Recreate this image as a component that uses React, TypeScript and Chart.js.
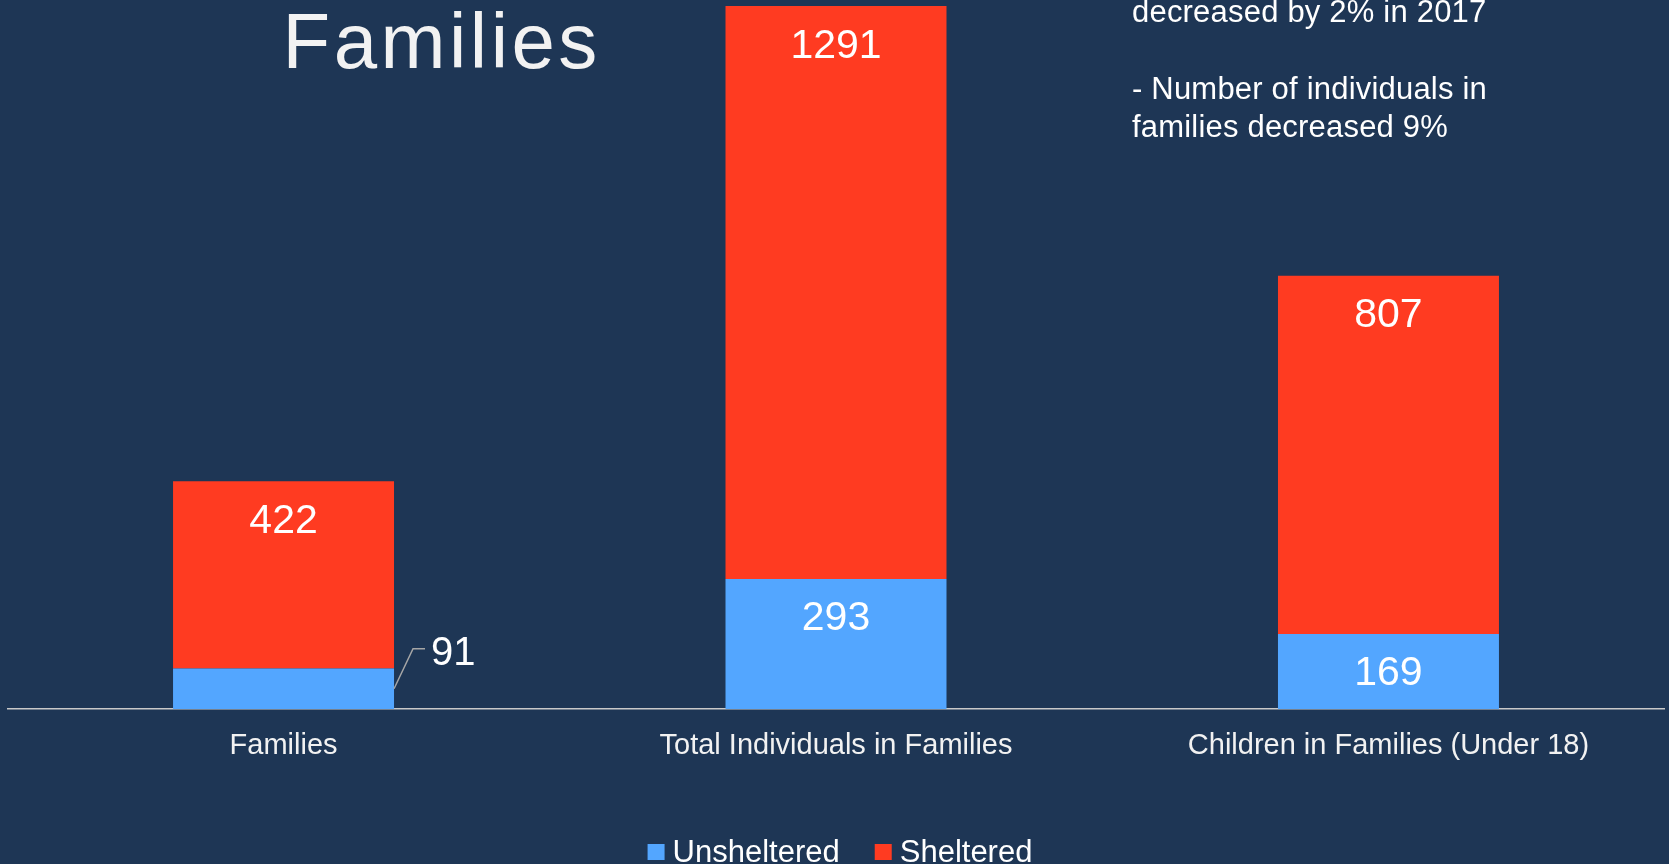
import React, { useEffect, useRef } from 'react';
import { Chart, registerables } from 'chart.js';

Chart.register(...registerables);

const categories = ['Families', 'Total Individuals in Families', 'Children in Families (Under 18)'];
const unsheltered = [91, 293, 169];
const sheltered = [422, 1291, 807];
const seriesNames = ['Unsheltered', 'Sheltered'];
const titleText = 'Families';
const noteLines = ['decreased by 2% in 2017', '', '- Number of individuals in', 'families decreased 9%'];

const BG = '#1E3655';
const RED = '#FF3B21';
const BLUE = '#53A6FF';
const FONT = '"Liberation Sans", Arial, sans-serif';

const yMax = Math.max(...unsheltered.map((v, i) => v + sheltered[i]));

const decorPlugin = {
  id: 'decor',
  beforeDraw(chart: any) {
    const ctx = chart.ctx;
    ctx.save();
    ctx.fillStyle = BG;
    ctx.fillRect(0, 0, chart.width, chart.height);
    ctx.restore();
  },
  afterDatasetsDraw(chart: any) {
    const ctx = chart.ctx;
    ctx.save();
    chart.data.datasets.forEach((ds: any, di: number) => {
      const meta = chart.getDatasetMeta(di);
      meta.data.forEach((el: any, i: number) => {
        const v = ds.data[i];
        const top = Math.min(el.y, el.base);
        const base = Math.max(el.y, el.base);
        const h = base - top;
        ctx.fillStyle = '#FFFFFF';
        ctx.textBaseline = 'alphabetic';
        if (h > 60) {
          ctx.font = `41px ${FONT}`;
          ctx.textAlign = 'center';
          ctx.fillText(String(v), el.x, top + 51.5);
        } else {
          const right = el.x + el.width / 2;
          const mid = (top + base) / 2;
          ctx.strokeStyle = '#A6A6A6';
          ctx.lineWidth = 1.5;
          ctx.beginPath();
          ctx.moveTo(right, mid);
          ctx.lineTo(right + 19, mid - 40);
          ctx.lineTo(right + 31, mid - 40);
          ctx.stroke();
          ctx.font = `40px ${FONT}`;
          ctx.textAlign = 'left';
          ctx.fillText(String(v), right + 37, mid - 24.2);
        }
      });
    });
    ctx.restore();
  },
  afterDraw(chart: any) {
    const ctx = chart.ctx;
    ctx.save();
    // title
    ctx.fillStyle = '#F2F2F2';
    ctx.font = `78px ${FONT}`;
    ctx.textAlign = 'left';
    ctx.textBaseline = 'alphabetic';
    (ctx as any).letterSpacing = '3.5px';
    ctx.fillText(titleText, 282.5, 67.7);
    // notes
    ctx.fillStyle = '#FFFFFF';
    ctx.font = `31px ${FONT}`;
    (ctx as any).letterSpacing = '0.2px';
    noteLines.forEach((line, i) => {
      if (line) ctx.fillText(line, 1132, 21.5 + i * 38.5);
    });
    // legend
    (ctx as any).letterSpacing = '0px';
    ctx.font = `31px ${FONT}`;
    const boxW = 17;
    const boxH = 16;
    const gapBox = 8;
    const gapItem = 35;
    const widths = chart.data.datasets.map((ds: any) => ctx.measureText(ds.label).width);
    let total = 0;
    widths.forEach((w: number, i: number) => {
      total += boxW + gapBox + w + (i < widths.length - 1 ? gapItem : 0);
    });
    const ca = chart.chartArea;
    let x = (ca.left + ca.right) / 2 + 4 - total / 2;
    chart.data.datasets.forEach((ds: any, i: number) => {
      ctx.fillStyle = ds.backgroundColor;
      ctx.fillRect(x, 844, boxW, boxH);
      x += boxW + gapBox;
      ctx.fillStyle = '#FFFFFF';
      ctx.fillText(ds.label, x, 862);
      x += widths[i] + gapItem;
    });
    ctx.restore();
  },
};

export default function App() {
  const ref = useRef<HTMLCanvasElement>(null);
  useEffect(() => {
    document.body.style.margin = '0';
    document.body.style.background = BG;
    const chart = new Chart(ref.current as HTMLCanvasElement, {
      type: 'bar',
      data: {
        labels: categories,
        datasets: [
          {
            label: seriesNames[0],
            data: unsheltered,
            backgroundColor: BLUE,
            borderWidth: 0,
            barPercentage: 0.4,
            categoryPercentage: 1,
          },
          {
            label: seriesNames[1],
            data: sheltered,
            backgroundColor: RED,
            borderWidth: 0,
            barPercentage: 0.4,
            categoryPercentage: 1,
          },
        ],
      },
      options: {
        responsive: false,
        maintainAspectRatio: false,
        animation: false,
        devicePixelRatio: 1,
        layout: { padding: { top: 6, left: 7.3, right: 4.3, bottom: 81.5 } },
        scales: {
          x: {
            stacked: true,
            grid: { display: false, drawTicks: false },
            border: { display: true, color: '#C9C9C9', width: 1.5 },
            ticks: {
              color: '#F2F2F2',
              font: { family: FONT, size: 29 },
              padding: 19.4,
              maxRotation: 0,
              autoSkip: false,
            },
          },
          y: { stacked: true, display: false, min: 0, max: yMax },
        },
        plugins: { legend: { display: false }, tooltip: { enabled: false }, title: { display: false } },
      },
      plugins: [decorPlugin],
    });
    return () => chart.destroy();
  }, []);
  return (
    <div style={{ position: 'absolute', left: 0, top: 0, width: 1669, height: 864, background: BG }}>
      <canvas ref={ref} width={1669} height={864} style={{ display: 'block', width: 1669, height: 864 }} />
    </div>
  );
}
